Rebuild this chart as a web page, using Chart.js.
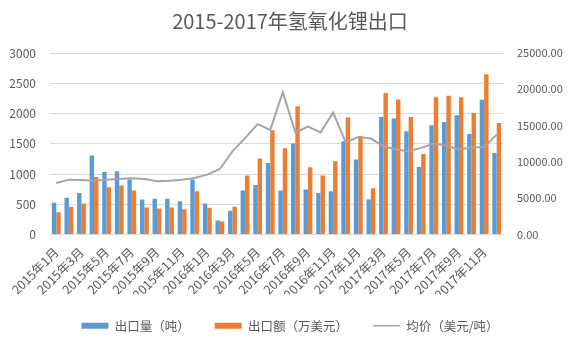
<!DOCTYPE html>
<html>
<head>
<meta charset="utf-8">
<script src="https://cdn.jsdelivr.net/npm/chart.js@4.4.1/dist/chart.umd.min.js"></script>
<style>
html,body{margin:0;padding:0;background:#fff;}
#wrap{width:579px;height:355px;position:relative;}
</style>
</head>
<body>
<div id="wrap"><canvas id="c" width="579" height="355"></canvas></div>
<script>
const categories = [
  '2015年1月','2015年2月','2015年3月','2015年4月','2015年5月','2015年6月','2015年7月','2015年8月','2015年9月','2015年10月','2015年11月','2015年12月',
  '2016年1月','2016年2月','2016年3月','2016年4月','2016年5月','2016年6月','2016年7月','2016年8月','2016年9月','2016年10月','2016年11月','2016年12月',
  '2017年1月','2017年2月','2017年3月','2017年4月','2017年5月','2017年6月','2017年7月','2017年8月','2017年9月','2017年10月','2017年11月','2017年12月'
];
const volumeTons = [
  523, 606, 688, 1305, 1035, 1046, 908, 578, 589, 589, 550, 908,
  512, 231, 391, 727, 820, 1183, 727, 1503, 743, 688, 716, 1541,
  1239, 578, 1943, 1916, 1706, 1117, 1806, 1861, 1971, 1662, 2229, 1349
];
const valueTenThousandUSD = [
  3073, 3807, 4266, 7936, 6514, 6743, 6055, 3716, 3578, 3716, 3486, 5963,
  3670, 1789, 3807, 8119, 10459, 14358, 11881, 17661, 9266, 8119, 10092, 16101,
  13578, 6376, 19495, 18578, 16193, 11101, 18899, 19128, 18899, 16743, 22064, 15367
];
const avgPrice = [
  7097, 7555, 7509, 7417, 7555, 7647, 7738, 7647, 7326, 7417, 7555, 7784,
  8242, 9024, 11442, 13282, 15206, 14423, 19602, 14052, 14876, 14052, 16804, 12683,
  13420, 13211, 12156, 11697, 11468, 11927, 12523, 12248, 11697, 12018, 12064, 13761
];
const leftTicks = {min: 0, max: 3000, step: 500};
const rightTicks = {min: 0, max: 25000, step: 5000};
const seriesNames = ['出口量（吨）', '出口额（万美元）', '均价（美元/吨）'];

const txt = '#595959';
const fam = '"Noto Sans CJK SC", "Noto Sans", sans-serif';

new Chart(document.getElementById('c'), {
  data: {
    labels: categories,
    datasets: [
      {type: 'bar', label: seriesNames[0], data: volumeTons, yAxisID: 'y', backgroundColor: '#5B9BD5', categoryPercentage: 0.7, barPercentage: 1.0, order: 1},
      {type: 'bar', label: seriesNames[1], data: valueTenThousandUSD, yAxisID: 'y1', backgroundColor: '#ED7D31', categoryPercentage: 0.7, barPercentage: 1.0, order: 1},
      {type: 'line', label: seriesNames[2], data: avgPrice, yAxisID: 'y1', borderColor: '#A5A5A5', backgroundColor: '#A5A5A5', borderWidth: 2, pointRadius: 0, tension: 0, order: 0}
    ]
  },
  options: {
    responsive: false,
    animation: false,
    layout: {autoPadding: false, padding: {left: 8, right: 7, top: 0, bottom: 13}},
    plugins: {
      title: {display: true, text: '2015-2017年氢氧化锂出口', color: txt, font: {family: fam, size: 20, weight: 'normal'}, padding: {top: 9, bottom: 20}},
      legend: {
        position: 'bottom',
        labels: {
          color: txt, font: {family: fam, size: 12.5},
          usePointStyle: true, pointStyleWidth: 27, boxHeight: 6, padding: 25,
          sort: (a, b) => a.datasetIndex - b.datasetIndex,
          generateLabels: (chart) => {
            const items = Chart.defaults.plugins.legend.labels.generateLabels(chart);
            items.forEach(it => {
              const ds = chart.data.datasets[it.datasetIndex];
              if (ds.type === 'line') { it.pointStyle = 'line'; it.lineWidth = 1.5; it.strokeStyle = '#A5A5A5'; }
              else { it.pointStyle = 'rect'; it.lineWidth = 0; }
            });
            return items;
          }
        }
      },
      tooltip: {enabled: false}
    },
    scales: {
      x: {
        grid: {display: false},
        border: {color: '#D9D9D9'},
        afterFit: s => { s.height = 60; },
        ticks: {
          color: txt, font: {family: fam, size: 12.5}, maxRotation: 45, minRotation: 45, autoSkip: false, padding: 2,
          callback: function(v, i) { return i % 2 === 0 ? this.getLabelForValue(v) : ''; }
        }
      },
      y: {
        position: 'left', min: leftTicks.min, max: leftTicks.max,
        grid: {color: '#D9D9D9', drawTicks: false},
        border: {display: false},
        afterFit: s => { s.width = 42; },
        ticks: {stepSize: leftTicks.step, color: txt, font: {family: fam, size: 12}, padding: 14,
          callback: v => String(v)}
      },
      y1: {
        position: 'right', min: rightTicks.min, max: rightTicks.max,
        grid: {drawOnChartArea: false, drawTicks: false},
        border: {display: false},
        afterFit: s => { s.width = 69; },
        ticks: {stepSize: rightTicks.step, color: txt, font: {family: fam, size: 11}, padding: 14,
          callback: v => Number(v).toFixed(2)}
      }
    }
  }
});
</script>
</body>
</html>
